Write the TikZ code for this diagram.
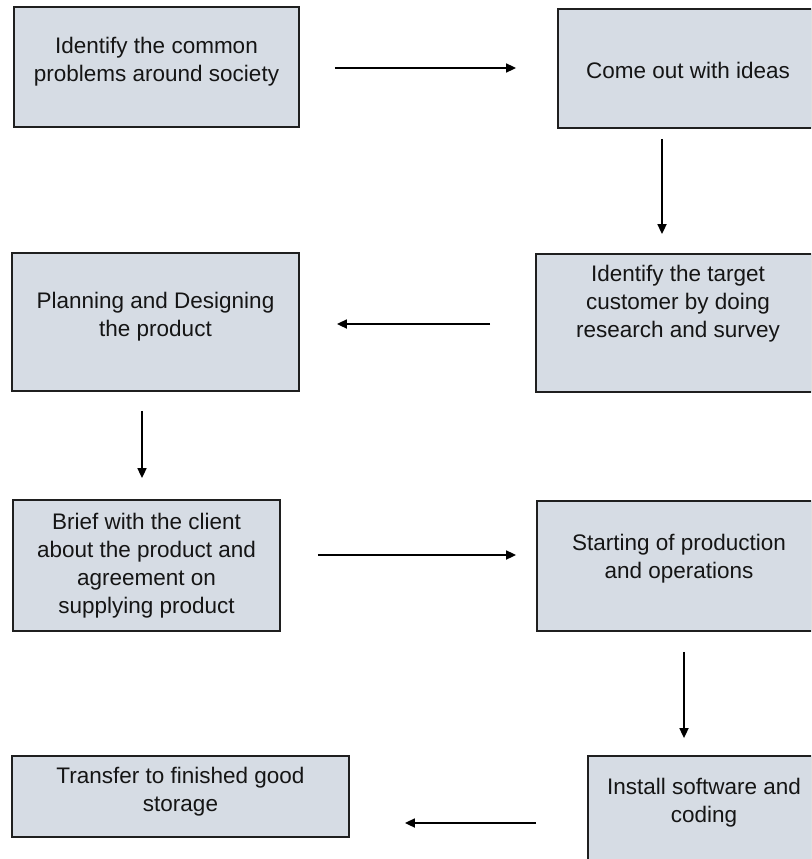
\documentclass[tikz,border=0pt]{standalone}
\usepackage{fontspec}
\setmainfont{Liberation Sans}
\usetikzlibrary{arrows.meta}
\definecolor{boxfill}{HTML}{D6DCE4}
\definecolor{boxline}{HTML}{1F1F1F}
\definecolor{txtcol}{HTML}{151515}
\tikzset{
  stepbox/.style={draw=boxline, fill=boxfill, line width=1.8pt, rectangle, inner sep=0pt},
  txt/.style={align=center, text=txtcol, inner sep=0pt, font=\fontsize{22.5pt}{28pt}\selectfont},
  arr/.style={draw=black, line width=1.7pt, -{Triangle[length=10pt,width=9pt]}}
}
\begin{document}
\begin{tikzpicture}[x=1pt,y=-1pt]
\useasboundingbox (0,0) rectangle (811,859);
\clip (0,0) rectangle (811,859);
% boxes
\node[stepbox, minimum width=285pt, minimum height=120pt] (b1) at (156.5,67) {};
\node[stepbox, minimum width=254pt, minimum height=119pt] (b2) at (685,68.5) {};
\node[stepbox, minimum width=276pt, minimum height=138pt] (b3) at (674,323) {};
\node[stepbox, minimum width=287pt, minimum height=138pt] (b4) at (155.5,322) {};
\node[stepbox, minimum width=267pt, minimum height=131pt] (b5) at (146.5,565.5) {};
\node[stepbox, minimum width=275pt, minimum height=130pt] (b6) at (674.5,566) {};
\node[stepbox, minimum width=224pt, minimum height=130pt] (b7) at (700,821) {};
\node[stepbox, minimum width=337pt, minimum height=81pt] (b8) at (180.5,796.5) {};
% texts
\node[txt] (t1) at (156.5,61.5) {Identify the common\\problems around society};
\node[txt] (t2) at (688,70) {Come out with ideas};
\node[txt] (t3) at (678,303.5) {Identify the target\\customer by doing\\research and survey};
\node[txt] (t4) at (155.5,316.5) {Planning and Designing\\the product};
\node[txt] (t5) at (146.5,565.5) {Brief with the client\\about the product and\\agreement on\\supplying product};
\node[txt] (t6) at (679,559) {Starting of production\\and operations};
\node[txt] (t7) at (704,803) {Install software and\\coding};
\node[txt] (t8) at (180.5,792) {Transfer to finished good\\storage};
% connectors
\draw[arr, shorten <=35pt, shorten >=41pt] ([yshift=-1pt]b1.east) -- ([yshift=-1pt]b1.east -| b2.west);
\draw[arr, shorten <=10pt, shorten >=19pt] ([xshift=-23pt]b2.south) -- ([xshift=-23pt]b2.south |- b3.north);
\draw[arr, shorten <=45pt, shorten >=37pt] ([yshift=-1pt]b3.west) -- ([yshift=-1pt]b3.west -| b4.east);
\draw[arr, shorten <=19pt, shorten >=21pt] ([xshift=-13.5pt]b4.south) -- ([xshift=-13.5pt]b4.south |- b5.north);
\draw[arr, shorten <=37pt, shorten >=20pt] ([yshift=10.5pt]b5.east) -- ([yshift=10.5pt]b5.east -| b6.west);
\draw[arr, shorten <=20pt, shorten >=17pt] ([xshift=9.5pt]b6.south) -- ([xshift=9.5pt]b6.south |- b7.north);
\draw[arr, shorten <=51pt, shorten >=55pt] ([yshift=-2pt]b7.west) -- ([yshift=-2pt]b7.west -| b8.east);
\end{tikzpicture}
\end{document}
